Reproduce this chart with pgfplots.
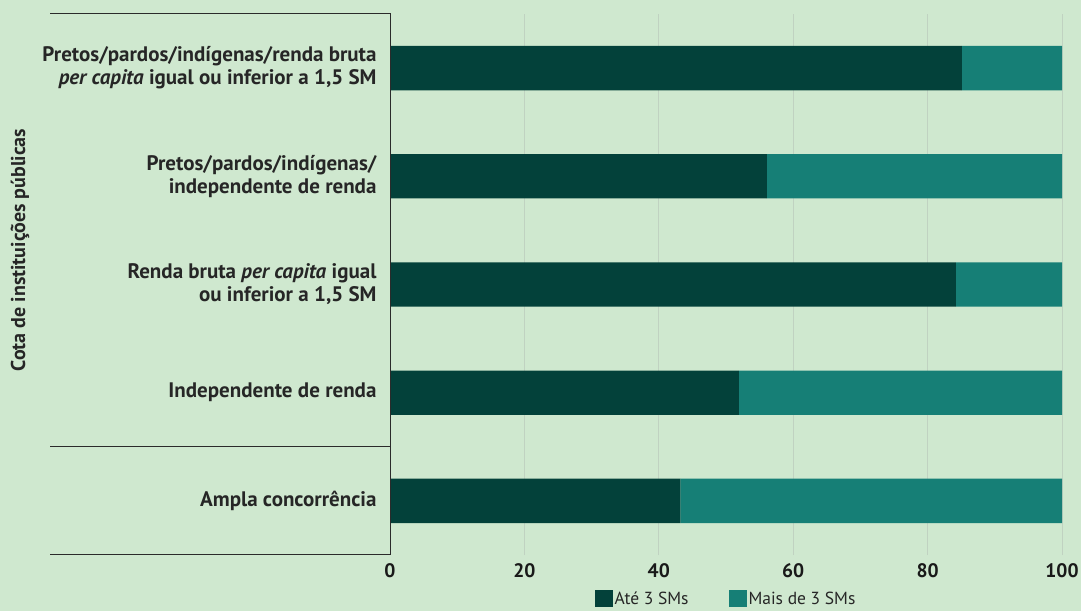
\documentclass[border=0pt]{standalone}
\usepackage{pgfplots}
\pgfplotsset{compat=1.18}
\usepackage{fontspec}
\setmainfont{PT Sans}
\definecolor{bgc}{HTML}{CFE8CF}
\definecolor{darkc}{HTML}{03413A}
\definecolor{tealc}{HTML}{167F76}
\definecolor{gridc}{HTML}{C0D2C1}
\definecolor{linec}{HTML}{2B2B2B}
\begin{document}
\begin{tikzpicture}
\fill[bgc] (0bp,0bp) rectangle (1081bp,611bp);
\begin{axis}[
  at={(390bp,56bp)}, anchor=south west,
  scale only axis, width=672bp, height=541bp,
  xbar stacked, bar width=0.41,
  xmin=0, xmax=100, ymin=-0.5, ymax=4.5,
  xtick={0,20,40,60,80,100},
  xticklabels={\textbf{0},\textbf{20},\textbf{40},\textbf{60},\textbf{80},\textbf{100}},
  ytick={0,1,2,3,4},
  yticklabels={{Ampla concorrência},{Independente de renda},{Renda bruta \textit{per capita} igual\\ou inferior a 1,5 SM},{Pretos/pardos/indígenas/\\independente de renda},{Pretos/pardos/indígenas/renda bruta\\\textit{per capita} igual ou inferior a 1,5 SM}},
  yticklabel style={align=right, font=\bfseries\fontsize{21bp}{23bp}\selectfont, text=black!85, xshift=-10bp},
  xticklabel style={font=\bfseries\fontsize{19.5bp}{21bp}\selectfont, text=black!90, yshift=-5bp},
  xmajorgrids, grid style={gridc, line width=0.9bp},
  axis line style={draw=none},
  major tick length=0pt,
  legend style={at={(0.5,-0.081)}, anchor=center, legend columns=2, draw=none, fill=none,
    font=\fontsize{17.5bp}{19bp}\selectfont, text=black!85, inner sep=0pt,
    /tikz/every even column/.append style={column sep=38bp}},
  legend image code/.code={\fill[#1] (0bp,-8.5bp) rectangle (18bp,8.5bp);},
]
\addplot[fill=darkc, draw=none] coordinates {(43.2,0) (51.9,1) (84.2,2) (56.1,3) (85.1,4)};
\addplot[fill=tealc, draw=none] coordinates {(56.8,0) (48.1,1) (15.8,2) (43.9,3) (14.9,4)};
\legend{Até 3 SMs, Mais de 3 SMs}
\end{axis}
\draw[linec, line width=1bp] (50bp,597bp) -- (390bp,597bp) -- (390bp,56bp) -- (50bp,56bp);
\draw[linec, line width=1bp] (50bp,164bp) -- (390bp,164bp);
\node[rotate=90, font=\bfseries\fontsize{20bp}{22bp}\selectfont, text=black!85] at (20bp,361bp) {Cota de instituições públicas};
\pgfresetboundingbox
\path (0bp,0bp) rectangle (1081bp,611bp);
\end{tikzpicture}
\end{document}
